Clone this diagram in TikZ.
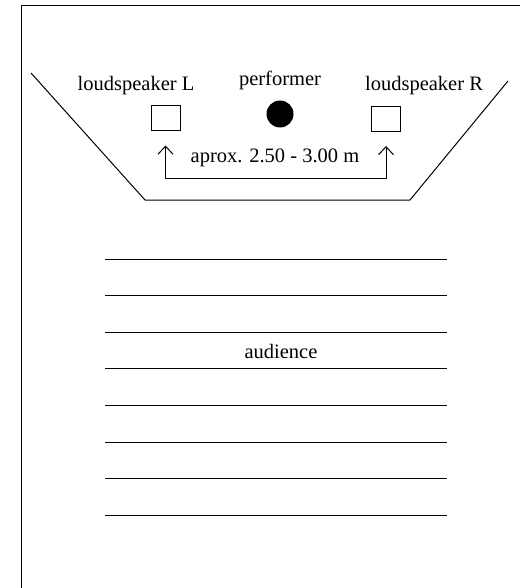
\documentclass[tikz,border=0pt]{standalone}
\usepackage{fontspec}
\setmainfont{Liberation Serif}
\usetikzlibrary{arrows.meta,calc}
\begin{document}
\begin{tikzpicture}[x=1pt,y=-1pt,line width=1pt,
  lbl/.style={font=\fontsize{20.5}{24}\selectfont,inner sep=0pt,anchor=base},
  spk/.style={draw,minimum width=29pt,minimum height=25pt,inner sep=0pt},
  dimarrow/.style={{Straight Barb[length=8pt,width=15pt]}-{Straight Barb[length=8pt,width=15pt]}}]
\useasboundingbox (0,0) rectangle (520,588);
% frame
\draw (21,588) -- (21,6) -- (520,6);
% stage
\draw (31,73) -- (145,200) -- (410,200) -- (508,81);
% speakers and performer
\node[spk] (spkL) at (165.5,118.5) {};
\node[spk] (spkR) at (386,119) {};
\node[circle,fill,minimum size=27pt,inner sep=0pt] (perf) at (280,114) {};
\node[lbl] (lblL) at (136,91) {loudspeaker L};
\node[lbl] (lblP) at (280,86) {performer};
\node[lbl] (lblR) at (424,91) {loudspeaker R};
% distance
\coordinate (aL) at ($(spkL.south)+(0,14)$);
\coordinate (aR) at ($(spkR.south)+(0,14)$);
\draw[dimarrow] (aL) -- ($(aL)+(0,33)$) -| (aR);
\node[lbl] (dist) at (275,163) {aprox. 2.50 - 3.00 m};
% audience rows
\foreach \i in {0,...,7} {
  \draw (105,{259+36.6*\i}) -- (447,{259+36.6*\i});
}
\node[lbl] (aud) at (281,358) {audience};
\end{tikzpicture}
\end{document}
